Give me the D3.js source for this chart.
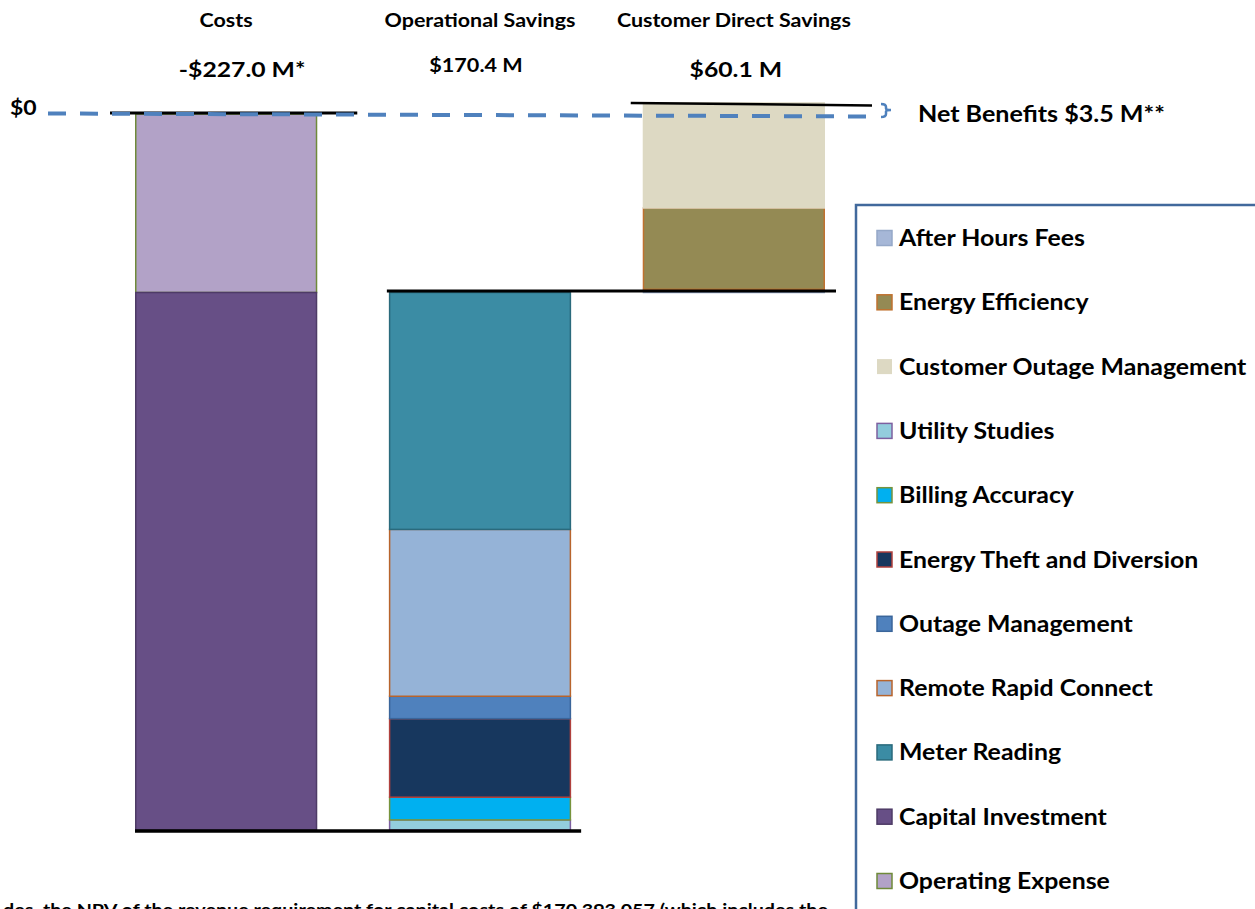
<!DOCTYPE html>
<html><head><meta charset="utf-8">
<script src="https://cdn.jsdelivr.net/npm/d3@7"></script>
<style>
html,body{margin:0;padding:0;background:#fff;overflow:hidden;}
text{font-family:Lato,"Open Sans",sans-serif;font-weight:bold;fill:#000;}
</style></head>
<body><svg id="c" width="1255" height="909"></svg>
<script>
// ---- data ----
const categories = ["Costs", "Operational Savings", "Customer Direct Savings"];
const totalLabels = ["-$227.0 M*", "$170.4 M", "$60.1 M"];
const costNames = ["Operating Expense", "Capital Investment"];
const costValues = [56.6, 170.4];
const opNames = ["Utility Studies", "Billing Accuracy", "Energy Theft and Diversion", "Outage Management", "Remote Rapid Connect", "Meter Reading"];
const opValues = [3.2, 7.2, 24.9, 7.1, 52.9, 75.1];
const custNames = ["After Hours Fees", "Energy Efficiency", "Customer Outage Management"];
const custValues = [1.0, 25.8, 33.3];
const netBenefit = 3.5;
const netLabel = "Net Benefits $3.5 M**";
const zeroLabel = "$0";
const legendOrder = ["After Hours Fees", "Energy Efficiency", "Customer Outage Management", "Utility Studies", "Billing Accuracy", "Energy Theft and Diversion", "Outage Management", "Remote Rapid Connect", "Meter Reading", "Capital Investment", "Operating Expense"];
const footnote = "des, the NPV of the revenue requirement for capital costs of $170,393,057 (which includes the";

// ---- styles ----
const fills = {
  "After Hours Fees": "#a6b7d7", "Energy Efficiency": "#948a54", "Customer Outage Management": "#ddd9c3",
  "Utility Studies": "#93cddd", "Billing Accuracy": "#00b0f0", "Energy Theft and Diversion": "#17375e",
  "Outage Management": "#4f81bd", "Remote Rapid Connect": "#95b3d7", "Meter Reading": "#3b8ca4",
  "Capital Investment": "#674f86", "Operating Expense": "#b2a2c7"
};
const strokes = {
  "After Hours Fees": "#95a8c8", "Energy Efficiency": "#c0712f", "Customer Outage Management": "#ddd9c3",
  "Utility Studies": "#7d60a0", "Billing Accuracy": "#77933c", "Energy Theft and Diversion": "#b0403d",
  "Outage Management": "#3a659a", "Remote Rapid Connect": "#b8642c", "Meter Reading": "#2a6a7c",
  "Capital Investment": "#4e3b66", "Operating Expense": "#6f8a3a"
};

const svg = d3.select("#c");
const totalCost = d3.sum(costValues);
const y = d3.scaleLinear().domain([-totalCost, 0]).range([830, 114]);
const x = d3.scaleBand().domain(categories).range([135, 825]).paddingInner(0.282).paddingOuter(0);
const bw = x.bandwidth();

// stretched text helper (reference text is horizontally widened)
function stext(sel, ax, ay, sx, size, anchor) {
  return sel.append("text")
    .attr("transform", `translate(${ax},${ay}) scale(${sx},1)`)
    .attr("text-anchor", anchor || "start")
    .style("font-size", size + "px");
}

// build segments
const segs = [];
let level = 0;
costNames.forEach((n, i) => { segs.push({cat: categories[0], name: n, y0: level - costValues[i], y1: level}); level -= costValues[i]; });
let base = -totalCost;
opNames.forEach((n, i) => { segs.push({cat: categories[1], name: n, y0: base, y1: base + opValues[i]}); base += opValues[i]; });
const opTop = base;
custNames.forEach((n, i) => { segs.push({cat: categories[2], name: n, y0: base, y1: base + custValues[i]}); base += custValues[i]; });

svg.append("g").selectAll("rect").data(segs).join("rect")
  .attr("x", d => x(d.cat) + 0.75)
  .attr("width", bw - 1.5)
  .attr("y", d => y(d.y1))
  .attr("height", d => Math.max(0.5, y(d.y0) - y(d.y1)))
  .attr("fill", d => fills[d.name])
  .attr("stroke", d => strokes[d.name])
  .attr("stroke-width", 1.5);

// connector lines
const lines = [
  {x1: x(categories[0]) - 25, x2: x(categories[0]) + bw + 40, y1: y(0) - 1, y2: y(0) - 1, w: 3},
  {x1: x(categories[0]), x2: x(categories[1]) + bw + 10, y1: y(-totalCost) + 1, y2: y(-totalCost) + 1, w: 3.5},
  {x1: x(categories[1]) - 2, x2: x(categories[2]) + bw + 11, y1: y(opTop) - 1.5, y2: y(opTop) - 1.5, w: 3},
  {x1: x(categories[2]) - 12, x2: x(categories[2]) + bw + 47, y1: y(netBenefit), y2: y(netBenefit) + 2.5, w: 2.5}
];
svg.append("g").selectAll("line.conn").data(lines).join("line")
  .attr("x1", d => d.x1).attr("x2", d => d.x2).attr("y1", d => d.y1).attr("y2", d => d.y2)
  .attr("stroke", "#000").attr("stroke-width", d => d.w);

// dashed zero line
svg.append("line").attr("x1", 48).attr("x2", 880).attr("y1", y(0) - 0.5).attr("y2", y(0) + 2.5)
  .attr("stroke", "#4f81bd").attr("stroke-width", 4).attr("stroke-dasharray", "18,14");

// brace
const by = y(netBenefit), bb = y(0) + 3;
svg.append("path")
  .attr("d", `M881,${by+1} Q886,${by+1} 886,${by+4} L886,${(by+bb)/2-1.5} Q886,${(by+bb)/2} 891,${(by+bb)/2} Q886,${(by+bb)/2} 886,${(by+bb)/2+1.5} L886,${bb-3} Q886,${bb} 881,${bb}`)
  .attr("fill", "none").attr("stroke", "#4f81bd").attr("stroke-width", 2.5);

// headings and totals
const hg = svg.append("g");
categories.forEach(c => stext(hg, x(c) + bw / 2, 27, 1.1, 19.5, "middle").text(c));
const totalDx = [16, -4, 2];
totalLabels.forEach((t, i) => {
  const big = i !== 1;
  stext(hg, x(categories[i]) + bw / 2 + totalDx[i], big ? 77 : 72, big ? 1.15 : 1.2, big ? 21.5 : 18, "middle").text(t);
});

stext(svg, 10, y(0) + 1, 1.15, 20).text(zeroLabel);
stext(svg, 918, y(0) + 8, 1.14, 22).text(netLabel);

// legend
svg.append("rect").attr("x", 856).attr("y", 205).attr("width", 460).attr("height", 760)
  .attr("fill", "none").attr("stroke", "#41699c").attr("stroke-width", 2.5);
const ly = d3.scalePoint().domain(legendOrder).range([238, 881]);
const lg = svg.append("g").selectAll("g").data(legendOrder).join("g")
  .attr("transform", d => `translate(0,${ly(d)})`);
lg.append("rect").attr("x", 877).attr("y", -7.5).attr("width", 15).attr("height", 15)
  .attr("fill", d => fills[d]).attr("stroke", d => strokes[d] === fills[d] ? "none" : strokes[d]).attr("stroke-width", 1.5);
lg.append("text").attr("transform", "translate(899,8) scale(1.13,1)").style("font-size", "22px").text(d => d);

// footnote (cut off by frame)
stext(svg, 828, 916, 1.16, 17, "end").text(footnote);
</script></body></html>
